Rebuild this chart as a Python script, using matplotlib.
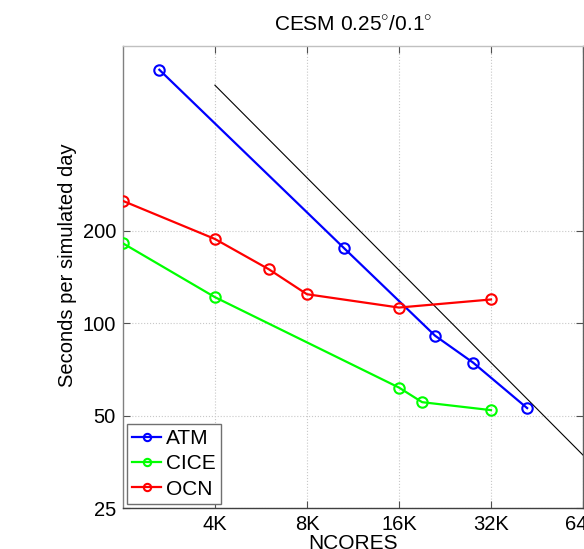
import matplotlib
matplotlib.use("Agg")
import matplotlib.pyplot as plt
from matplotlib.ticker import NullLocator, FixedLocator, FixedFormatter

plt.rcParams['font.family'] = ['Liberation Sans', 'DejaVu Sans']
plt.rcParams['mathtext.fontset'] = 'custom'
plt.rcParams['mathtext.rm'] = 'Liberation Sans'

# Data
atm_cores = [2695, 10816, 21510, 28630, 43030]
atm_secs = [668, 175.7, 91.0, 74.4, 52.9]
cice_cores = [2048, 4096, 16384, 19510, 32768]
cice_secs = [181.9, 121.5, 61.7, 55.3, 52.1]
ocn_cores = [2048, 4096, 6144, 8192, 16384, 32768]
ocn_secs = [250, 187.9, 149.8, 124.2, 112.4, 119.4]
ideal_cores = [4096, 65536]
ideal_secs = [595, 37.2]

xticks = [4096, 8192, 16384, 32768, 65536]
xticklabels = ['4K', '8K', '16K', '32K', '64K']
yticks = [25, 50, 100, 200]
yticklabels = ['25', '50', '100', '200']

fig = plt.figure(figsize=(5.84, 5.49), dpi=100)
L, R, T, B = 122.9, 583.0, 45.7, 508.1
ax = fig.add_axes([L / 584, (549 - B) / 549, (R - L) / 584, (B - T) / 549])

ax.set_xscale('log', base=2)
ax.set_yscale('log')

lw = 1.6
ms = 7.5
ax.plot(atm_cores, atm_secs, '-o', color='#0000ff', lw=lw, ms=ms, mfc='none', mew=1.5, label='ATM', zorder=3)
ax.plot(cice_cores, cice_secs, '-o', color='#00ff00', lw=lw, ms=ms, mfc='none', mew=1.5, label='CICE', zorder=3)
ax.plot(ocn_cores, ocn_secs, '-o', color='#ff0000', lw=lw, ms=ms, mfc='none', mew=1.5, label='OCN', zorder=3)
ax.plot(ideal_cores, ideal_secs, '-', color='black', lw=0.8, zorder=2)

ax.set_xlim(2048, 65536)
ax.set_ylim(25, 800)

ax.xaxis.set_major_locator(FixedLocator(xticks))
ax.xaxis.set_major_formatter(FixedFormatter(xticklabels))
ax.xaxis.set_minor_locator(NullLocator())
ax.yaxis.set_major_locator(FixedLocator(yticks))
ax.yaxis.set_major_formatter(FixedFormatter(yticklabels))
ax.yaxis.set_minor_locator(NullLocator())

ax.tick_params(axis='both', which='major', direction='in', length=5, width=0.8,
               top=True, right=True, labelsize=14.5, color='#505050', pad=5)
ax.grid(True, which='major', linestyle=':', color='#c8c8c8', linewidth=0.8)

for side, c in [('left', '#808080'), ('top', '#c0c0c0'), ('right', '#606060'), ('bottom', '#404040')]:
    ax.spines[side].set_color(c)
    ax.spines[side].set_linewidth(1.0)

ax.set_title(r'CESM 0.25$^{\circ}$/0.1$^{\circ}$', fontsize=15, pad=11)
ax.set_xlabel('NCORES', fontsize=15, labelpad=0)
ax.set_ylabel('Seconds per simulated day', fontsize=14.5)
ax.yaxis.set_label_coords(-0.10, 0.526)

leg = ax.legend(loc='lower left', fontsize=15, frameon=True, fancybox=False,
                edgecolor='#707070', framealpha=1, handlelength=1.4,
                borderaxespad=0.2, borderpad=0.25, labelspacing=0.3,
                handletextpad=0.2, markerscale=0.7)
leg.get_frame().set_linewidth(1.0)

fig.savefig('out.png', dpi=100)
